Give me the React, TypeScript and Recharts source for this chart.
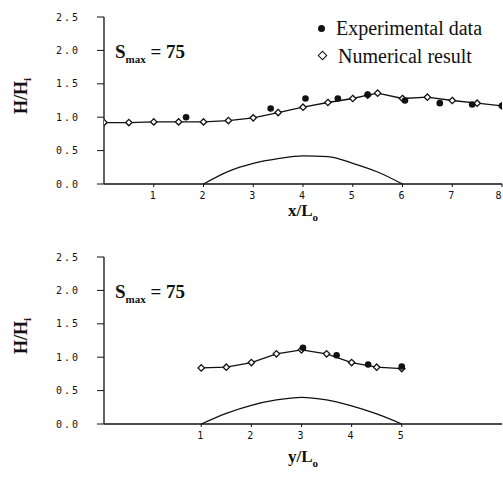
import React from "react";
import { ComposedChart, Line, Scatter, XAxis, YAxis } from "recharts";

// top panel: along x
const numX = [
  { x: 0, y: 0.92 }, { x: 0.5, y: 0.92 }, { x: 1, y: 0.93 }, { x: 1.5, y: 0.93 },
  { x: 2, y: 0.93 }, { x: 2.5, y: 0.95 }, { x: 3, y: 0.99 }, { x: 3.5, y: 1.07 },
  { x: 4, y: 1.15 }, { x: 4.5, y: 1.22 }, { x: 5, y: 1.28 }, { x: 5.3, y: 1.33 },
  { x: 5.5, y: 1.36 }, { x: 6, y: 1.28 }, { x: 6.5, y: 1.3 }, { x: 7, y: 1.25 },
  { x: 7.5, y: 1.21 }, { x: 8, y: 1.17 },
];
const expX = [
  { x: 1.65, y: 1.0 }, { x: 3.35, y: 1.13 }, { x: 4.05, y: 1.28 }, { x: 4.7, y: 1.28 },
  { x: 5.3, y: 1.34 }, { x: 6.05, y: 1.25 }, { x: 6.75, y: 1.21 }, { x: 7.4, y: 1.19 },
  { x: 8, y: 1.17 },
];
const bumpX = [
  { x: 2, y: 0 }, { x: 2.5, y: 0.19 }, { x: 3, y: 0.31 }, { x: 3.5, y: 0.38 },
  { x: 4, y: 0.42 }, { x: 4.5, y: 0.41 }, { x: 5, y: 0.31 }, { x: 5.5, y: 0.18 }, { x: 6, y: 0 },
];

// bottom panel: along y
const numY = [
  { x: 1, y: 0.84 }, { x: 1.5, y: 0.85 }, { x: 2, y: 0.92 }, { x: 2.5, y: 1.05 },
  { x: 3, y: 1.11 }, { x: 3.5, y: 1.05 }, { x: 4, y: 0.92 }, { x: 4.5, y: 0.85 }, { x: 5, y: 0.83 },
];
const expY = [
  { x: 3.03, y: 1.14 }, { x: 3.7, y: 1.03 }, { x: 4.33, y: 0.89 }, { x: 5, y: 0.86 },
];
const bumpY = [
  { x: 1, y: 0 }, { x: 1.5, y: 0.16 }, { x: 2, y: 0.28 }, { x: 2.5, y: 0.36 },
  { x: 3, y: 0.4 }, { x: 3.5, y: 0.36 }, { x: 4, y: 0.27 }, { x: 4.5, y: 0.15 }, { x: 5, y: 0 },
];

const yTicks = [0, 0.5, 1, 1.5, 2, 2.5];
const xTicksTop = [1, 2, 3, 4, 5, 6, 7, 8];
const xTicksBottom = [1, 2, 3, 4, 5];

const INK = "#111";
const serif = "'Liberation Serif', 'Times New Roman', serif";
const tickFont = { fontSize: 10, fill: INK, fontFamily: "'DejaVu Sans Mono', monospace", letterSpacing: 2 };

const Diamond = (p: any) => {
  const { cx, cy } = p;
  if (cx == null || cy == null) return <g />;
  const s = 3.2;
  return <polygon points={`${cx},${cy - s} ${cx + s},${cy} ${cx},${cy + s} ${cx - s},${cy}`} fill="#fff" stroke={INK} strokeWidth={1.3} />;
};
const Dot = (p: any) => <circle cx={p.cx} cy={p.cy} r={3.3} fill={INK} />;

function Panel({ num, exp, bump, domain, ticks, axisName, labelTop, legend }: any) {
  return (
    <div style={{ position: "relative", width: 503, height: 238 }}>
      <ComposedChart width={503} height={238} margin={{ top: 17, right: 1, bottom: 0, left: 0 }}>
        <XAxis type="number" dataKey="x" domain={domain} ticks={ticks} allowDataOverflow
          tick={tickFont} tickSize={3} tickMargin={5} height={54} stroke={INK} axisLine={{ stroke: INK, strokeWidth: 1.3 }} />
        <YAxis type="number" dataKey="y" domain={[0, 2.5]} ticks={yTicks} width={104}
          tickFormatter={(v: number) => v.toFixed(1)} tick={tickFont} tickSize={7} tickMargin={17}
          stroke={INK} axisLine={{ stroke: INK, strokeWidth: 1.3 }} />
        <Line data={bump} dataKey="y" type="monotone" stroke={INK} strokeWidth={1.3} dot={false} isAnimationActive={false} />
        <Line data={num} dataKey="y" type="linear" stroke={INK} strokeWidth={1.3} dot={<Diamond />} isAnimationActive={false} />
        <Scatter data={exp} dataKey="y" shape={<Dot />} isAnimationActive={false} />
      </ComposedChart>
      {legend && (
        <div style={{ position: "absolute", left: 318, top: 14, fontFamily: serif, fontSize: 20, color: INK, lineHeight: "28px" }}>
          <div><span style={{ display: "inline-block", width: 7, height: 7, borderRadius: 4, background: INK, marginRight: 11, verticalAlign: 3 }} />Experimental data</div>
          <div><span style={{ display: "inline-block", width: 5, height: 5, border: `1.2px solid ${INK}`, transform: "rotate(45deg)", marginRight: 12, marginLeft: 1, verticalAlign: 4 }} />Numerical result</div>
        </div>
      )}
      <div style={{ position: "absolute", left: 115, top: 41, fontFamily: serif, fontWeight: "bold", fontSize: 19, color: INK }}>
        S<sub style={{ fontSize: 11 }}>max</sub> = 75
      </div>
      <div style={{ position: "absolute", left: 22, top: 96, transform: "translate(-50%,-50%) rotate(-90deg)", fontFamily: serif, fontWeight: "bold", fontSize: 18, color: INK, whiteSpace: "nowrap" }}>
        H/H<sub style={{ fontSize: 11 }}>i</sub>
      </div>
      <div style={{ position: "absolute", left: 303, top: labelTop, transform: "translate(-50%,-50%)", fontFamily: serif, fontWeight: "bold", fontSize: 17, color: INK, whiteSpace: "nowrap" }}>
        {axisName}/L<sub style={{ fontSize: 11 }}>o</sub>
      </div>
    </div>
  );
}

export default function App() {
  return (
    <div style={{ width: 503, height: 477, background: "#fff", position: "relative" }}>
      <style>{`body{margin:0}`}</style>
      <Panel num={numX} exp={expX} bump={bumpX} domain={[0, 8]} ticks={xTicksTop} axisName="x" labelTop={212} legend />
      <div style={{ height: 2 }} />
      <Panel num={numY} exp={expY} bump={bumpY} domain={[-0.94, 7]} ticks={xTicksBottom} axisName="y" labelTop={218} />
    </div>
  );
}
